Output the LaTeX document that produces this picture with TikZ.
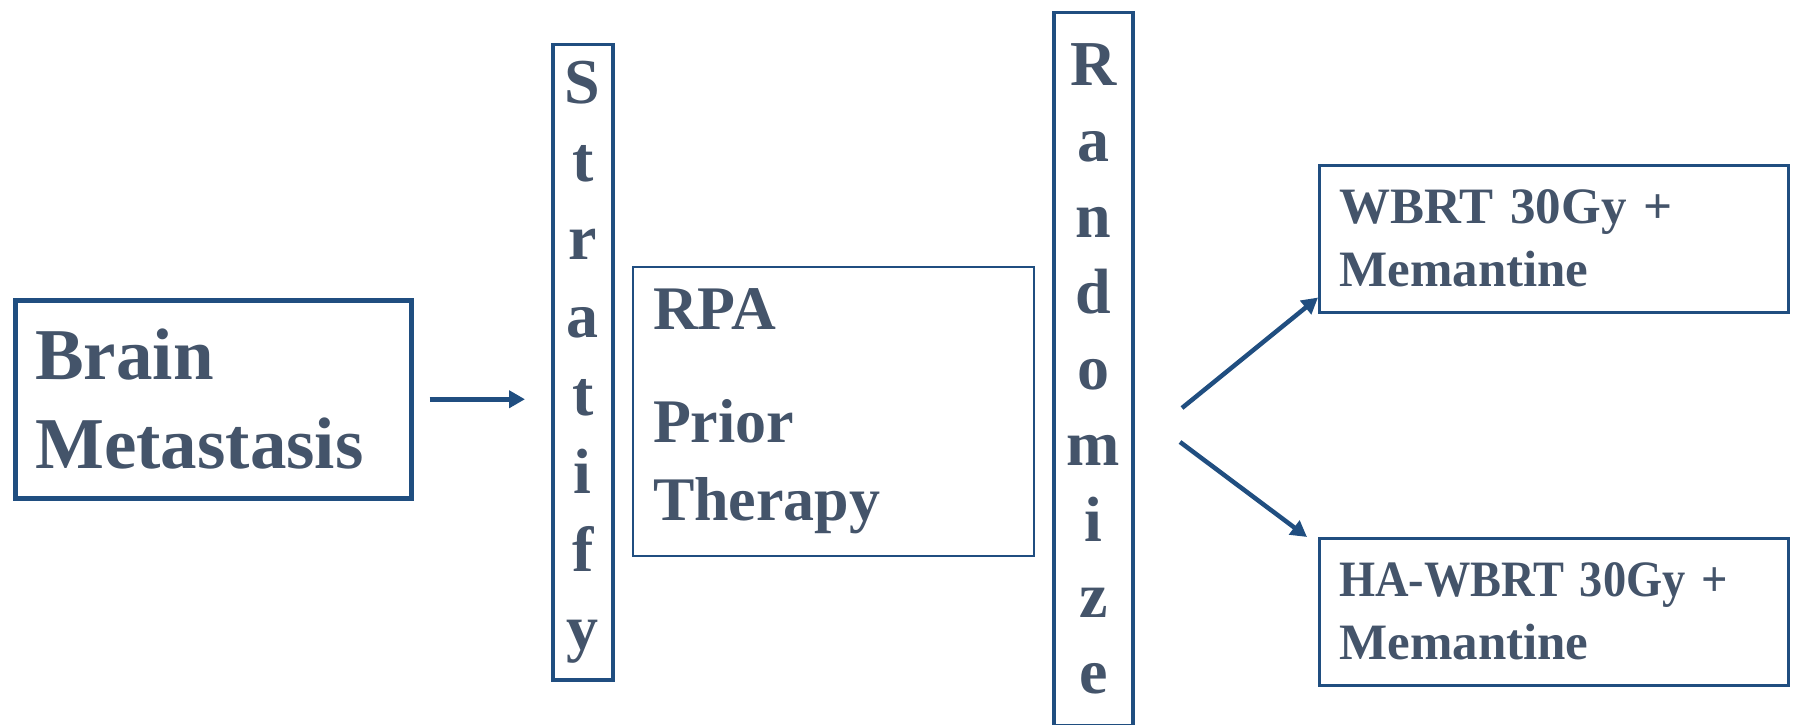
\documentclass[tikz,border=0pt]{standalone}
\usepackage{fontspec}
\setmainfont{Liberation Serif}
\usetikzlibrary{arrows.meta}

\definecolor{boxblue}{RGB}{32,78,128}
\definecolor{slatetext}{RGB}{68,84,106}

\begin{document}
\begin{tikzpicture}[
  x=1pt, y=-1pt,
  every node/.style={text=slatetext, font=\bfseries},
  sidebox/.style={rectangle, draw=boxblue, anchor=north west, inner xsep=20pt, inner ysep=0pt, align=left},
  tallbar/.style={rectangle, draw=boxblue, line width=3.5pt, anchor=north west, inner sep=0pt, align=center},
  link/.style={draw=boxblue, line width=4.5pt, -{Triangle[length=16pt,width=17pt]}}
]
  \useasboundingbox (0,0) rectangle (1793,725);

  \node[sidebox, line width=4.5pt, minimum width=396pt, minimum height=198pt, text width=356pt,
        font=\bfseries\fontsize{73}{89}\selectfont] (brain) at (13,298) {Brain\\Metastasis};
  \node[tallbar, minimum width=60pt, minimum height=635pt,
        font=\bfseries\fontsize{64}{78}\selectfont] (strat) at (551,43) {S\\t\\r\\a\\t\\i\\f\\y};
  \node[sidebox, line width=2pt, minimum width=401pt, minimum height=289pt, text width=361pt,
        font=\bfseries\fontsize{62}{78}\selectfont] (rpa) at (632,266) {RPA\\[35pt]Prior\\Therapy};
  \node[tallbar, minimum width=79pt, minimum height=713pt,
        font=\bfseries\fontsize{64}{76}\selectfont] (rand) at (1052,11) {R\\a\\n\\d\\o\\m\\i\\z\\e};
  \node[sidebox, line width=2.5pt, minimum width=469pt, minimum height=147pt, text width=429pt,
        font=\bfseries\fontsize{51}{63}\selectfont] (wbrt) at (1318,164) {WBRT 30Gy +\\Memantine};
  \node[sidebox, line width=2.5pt, minimum width=469pt, minimum height=147pt, text width=429pt,
        font=\bfseries\fontsize{51}{63}\selectfont] (hawbrt) at (1318,537) {\scalebox{0.91}[1]{HA-WBRT 30Gy +}\\Memantine};

  % free ends of the two arms
  \coordinate (armup) at (1182,408);
  \coordinate (armdown) at (1180,442);

  \draw[link, shorten <=16pt, shorten >=26pt] (brain.east) -- (brain.east -| strat.west);
  \draw[link] (armup) -- (wbrt.194);
  \draw[link] (armdown) -- ([xshift=-11pt]hawbrt.north west);
\end{tikzpicture}
\end{document}
